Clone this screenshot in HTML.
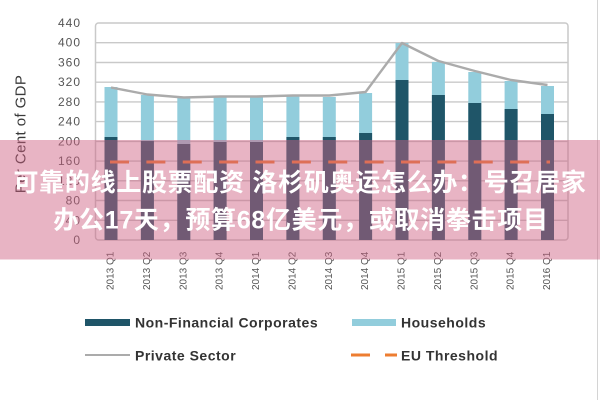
<!DOCTYPE html>
<html>
<head>
<meta charset="utf-8">
<style>
  html,body{margin:0;padding:0;background:#fff;}
  body{width:600px;height:400px;overflow:hidden;}
  svg{display:block;}
  .yl{font-family:"Liberation Sans",sans-serif;font-size:12px;fill:#555;letter-spacing:1px;}
  .xl{font-family:"Liberation Sans",sans-serif;font-size:10px;fill:#555;}
  .lg{font-family:"Liberation Sans",sans-serif;font-size:14px;font-weight:bold;fill:#333;letter-spacing:0.5px;}
  .ov{font-family:"Liberation Sans","Noto Sans CJK SC",sans-serif;font-size:25px;font-weight:bold;fill:#fff;letter-spacing:0.7px;}
</style>
</head>
<body>
<svg width="600" height="400" viewBox="0 0 600 400" xmlns="http://www.w3.org/2000/svg">
  <rect x="0" y="0" width="600" height="400" fill="#fff"/>
  <!-- right edge line -->
  <line x1="597.5" y1="0" x2="597.5" y2="400" stroke="#d4d4d4" stroke-width="1"/>

  <!-- gridlines -->
  <g stroke="#c9c9c9" stroke-width="1.4">
    <line x1="95" y1="42.7" x2="568" y2="42.7"/>
    <line x1="95" y1="62.5" x2="568" y2="62.5"/>
    <line x1="95" y1="82.2" x2="568" y2="82.2"/>
    <line x1="95" y1="101.9" x2="568" y2="101.9"/>
    <line x1="95" y1="121.6" x2="568" y2="121.6"/>
    <line x1="95" y1="141.4" x2="568" y2="141.4"/>
    <line x1="95" y1="161.1" x2="568" y2="161.1"/>
    <line x1="95" y1="180.8" x2="568" y2="180.8"/>
    <line x1="95" y1="200.5" x2="568" y2="200.5"/>
    <line x1="95" y1="220.3" x2="568" y2="220.3"/>
  </g>
  <rect x="95.5" y="23" width="472.5" height="217" rx="3" ry="3" fill="none" stroke="#c9c9c9" stroke-width="1.5"/>

  <!-- y labels -->
  <g class="yl" text-anchor="end" dominant-baseline="central">
    <text x="81" y="23">440</text>
    <text x="81" y="42.7">400</text>
    <text x="81" y="62.5">360</text>
    <text x="81" y="82.2">320</text>
    <text x="81" y="101.9">280</text>
    <text x="81" y="121.6">240</text>
    <text x="81" y="141.4">200</text>
    <text x="81" y="161.1">160</text>
    <text x="81" y="180.8">120</text>
    <text x="81" y="200.5">80</text>
    <text x="81" y="220.3">40</text>
    <text x="81" y="240">0</text>
  </g>

  <!-- y axis title -->
  <text transform="translate(21,134) rotate(-90)" text-anchor="middle" dominant-baseline="central"
        style="font-family:'Liberation Sans',sans-serif;font-size:15px;fill:#3a3a3a;letter-spacing:0.4px;">Per Cent of GDP</text>

  <!-- bars: households (full total), then NFC -->
  <g fill="#92cddc">
    <rect x="104.5" y="87" width="13" height="153"/>
    <rect x="140.9" y="95" width="13" height="145"/>
    <rect x="177.3" y="98" width="13" height="142"/>
    <rect x="213.6" y="97" width="13" height="143"/>
    <rect x="250" y="97" width="13" height="143"/>
    <rect x="286.4" y="96" width="13" height="144"/>
    <rect x="322.8" y="97" width="13" height="143"/>
    <rect x="359.1" y="93" width="13" height="147"/>
    <rect x="395.5" y="43" width="13" height="197"/>
    <rect x="431.9" y="62" width="13" height="178"/>
    <rect x="468.3" y="72" width="13" height="168"/>
    <rect x="504.6" y="81" width="13" height="159"/>
    <rect x="541" y="86" width="13" height="154"/>
  </g>
  <g fill="#1f5568">
    <rect x="104.5" y="137" width="13" height="103"/>
    <rect x="140.9" y="141" width="13" height="99"/>
    <rect x="177.3" y="144" width="13" height="96"/>
    <rect x="213.6" y="142" width="13" height="98"/>
    <rect x="250" y="142" width="13" height="98"/>
    <rect x="286.4" y="137" width="13" height="103"/>
    <rect x="322.8" y="137" width="13" height="103"/>
    <rect x="359.1" y="133" width="13" height="107"/>
    <rect x="395.5" y="80" width="13" height="160"/>
    <rect x="431.9" y="95" width="13" height="145"/>
    <rect x="468.3" y="103" width="13" height="137"/>
    <rect x="504.6" y="109" width="13" height="131"/>
    <rect x="541" y="114" width="13" height="126"/>
  </g>

  <!-- private sector line -->
  <polyline fill="none" stroke="#ababab" stroke-width="2.4" stroke-linejoin="round"
    points="111,87.5 147.4,94.5 183.8,97.5 220.1,96.5 256.5,96.5 292.9,95.5 329.3,95.5 365.6,92 402,43 438.4,61 474.8,71 511.1,80 547.5,85"/>

  <!-- EU threshold -->
  <line x1="110" y1="162" x2="550" y2="162" stroke="#ed7d31" stroke-width="3" stroke-dasharray="19 17.375"/>

  <!-- x labels -->
  <g class="xl" dominant-baseline="central">
    <text transform="translate(111,290) rotate(-90)">2013 Q1</text>
    <text transform="translate(147.4,290) rotate(-90)">2013 Q2</text>
    <text transform="translate(183.8,290) rotate(-90)">2013 Q3</text>
    <text transform="translate(220.1,290) rotate(-90)">2013 Q4</text>
    <text transform="translate(256.5,290) rotate(-90)">2014 Q1</text>
    <text transform="translate(292.9,290) rotate(-90)">2014 Q2</text>
    <text transform="translate(329.3,290) rotate(-90)">2014 Q3</text>
    <text transform="translate(365.6,290) rotate(-90)">2014 Q4</text>
    <text transform="translate(402,290) rotate(-90)">2015 Q1</text>
    <text transform="translate(438.4,290) rotate(-90)">2015 Q2</text>
    <text transform="translate(474.8,290) rotate(-90)">2015 Q3</text>
    <text transform="translate(511.1,290) rotate(-90)">2015 Q4</text>
    <text transform="translate(547.5,290) rotate(-90)">2016 Q1</text>
  </g>

  <!-- legend -->
  <rect x="85" y="319" width="45" height="7" fill="#1f5568"/>
  <text class="lg" x="135" y="322.5" dominant-baseline="central">Non-Financial Corporates</text>
  <rect x="352" y="319" width="44" height="7" fill="#92cddc"/>
  <text class="lg" x="401" y="322.5" dominant-baseline="central">Households</text>
  <line x1="85" y1="355" x2="130" y2="355" stroke="#ababab" stroke-width="2"/>
  <text class="lg" x="135" y="355.5" dominant-baseline="central">Private Sector</text>
  <line x1="351" y1="355" x2="370" y2="355" stroke="#ed7d31" stroke-width="3"/>
  <line x1="385" y1="355" x2="397" y2="355" stroke="#ed7d31" stroke-width="3"/>
  <text class="lg" x="401" y="355.5" dominant-baseline="central">EU Threshold</text>

  <!-- pink overlay band -->
  <rect x="0" y="140" width="600" height="119.5" fill="rgb(206,96,130)" fill-opacity="0.47"/>
  <text class="ov" x="300" y="183" text-anchor="middle" dominant-baseline="central">可靠的线上股票配资 洛杉矶奥运怎么办：号召居家</text>
  <text class="ov" x="301" y="220.5" text-anchor="middle" dominant-baseline="central">办公17天，预算68亿美元，或取消拳击项目</text>
</svg>
</body>
</html>
